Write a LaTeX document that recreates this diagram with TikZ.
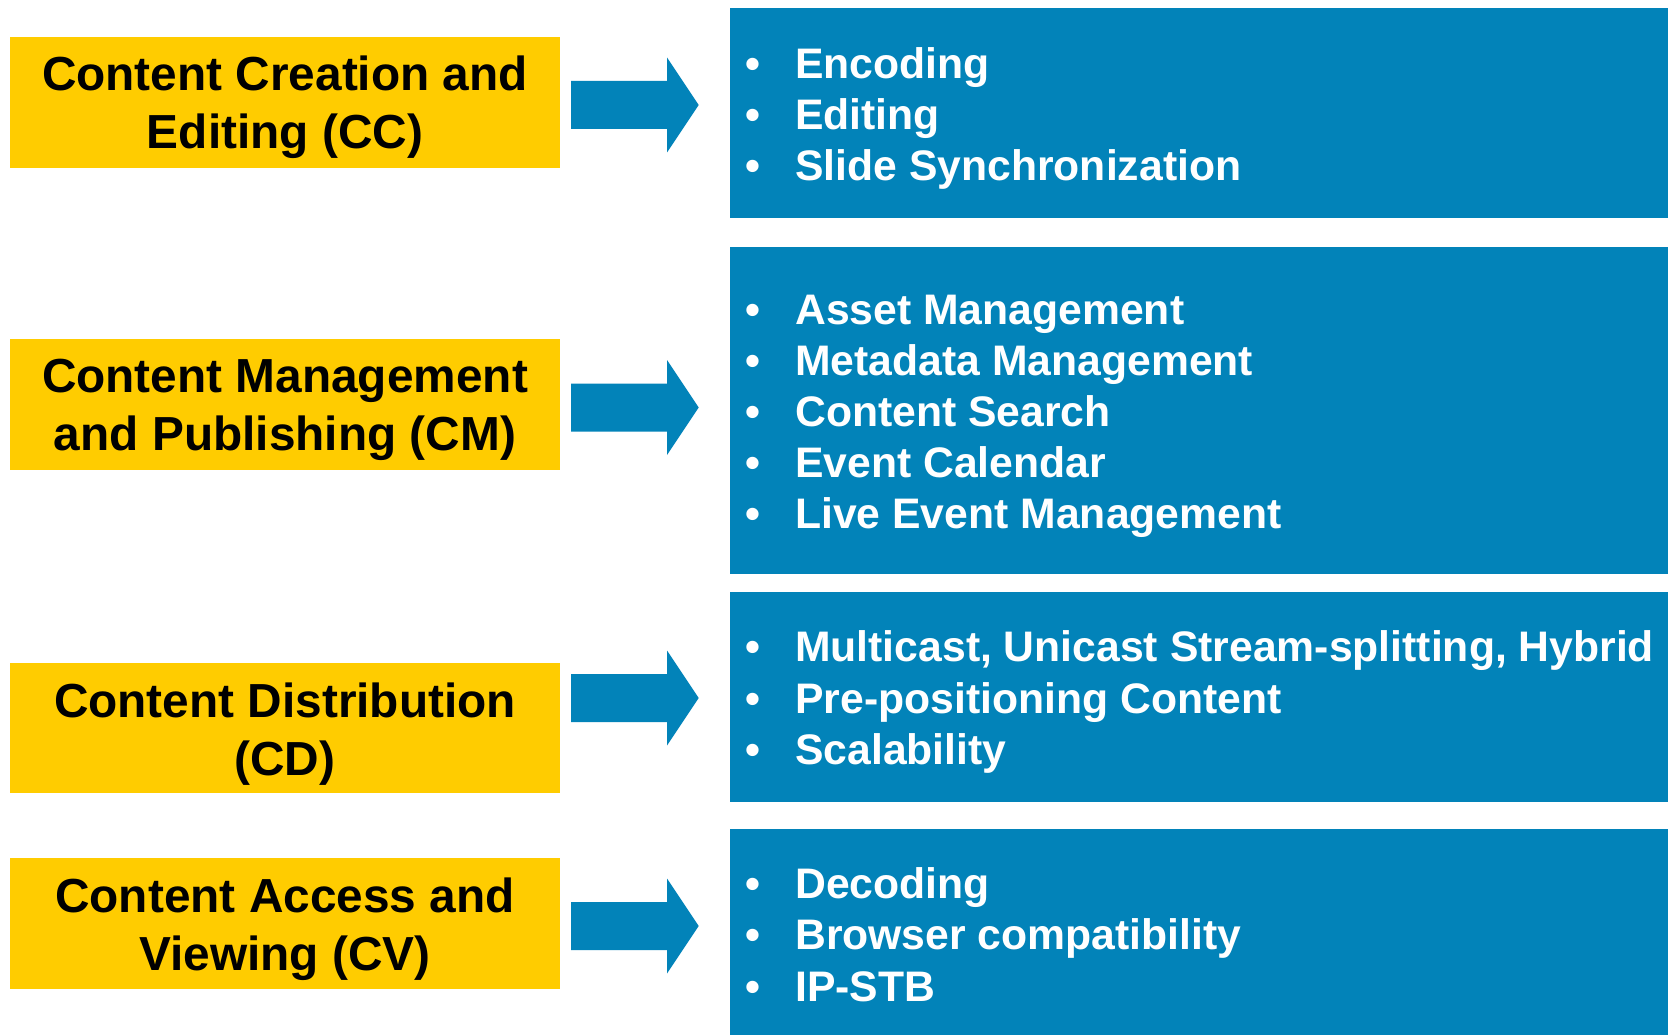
\documentclass[tikz,border=0pt]{standalone}
\usepackage{fontspec}
\setmainfont{Liberation Sans}
\definecolor{cyel}{RGB}{255,204,0}
\definecolor{cblue}{RGB}{2,131,185}
\tikzset{
  ybox/.style={fill=cyel, draw=none, inner sep=0pt, outer sep=0pt, minimum width=550pt, minimum height=130.6pt, anchor=north west},
  bbox/.style={fill=cblue, draw=none, inner sep=0pt, outer sep=0pt, minimum width=938pt, anchor=north west},
  ytext/.style={font=\fontsize{47.8}{57}\selectfont\bfseries, text=black, anchor=base, inner sep=0pt},
  btext/.style={font=\fontsize{42.7}{51}\selectfont\bfseries, text=white, anchor=base west, inner sep=0pt},
  barrow/.style={fill=cblue, draw=none}
}
\newcommand{\bl}[1]{\makebox[49.6pt][l]{•}#1}
\begin{document}
\begin{tikzpicture}[x=1pt,y=-1pt]
\useasboundingbox (0,0) rectangle (1668,1035);
% yellow boxes
\node[ybox] (cc) at (10,37.3) {};
\node[ybox] (cm) at (10,339) {};
\node[ybox] (cd) at (10,662.7) {};
\node[ybox] (cv) at (10,858) {};
% yellow texts
\node[ytext] (cc1) at (285,90.7) {Content Creation and};
\node[ytext] (cc2) at (285,149) {Editing (CC)};
\node[ytext] (cm1) at (285,392.4) {Content Management};
\node[ytext] (cm2) at (285,450.7) {and Publishing (CM)};
\node[ytext] (cd1) at (285,717.3) {Content Distribution};
\node[ytext] (cd2) at (285,775) {(CD)};
\node[ytext] (cv1) at (285,912.2) {Content Access and};
\node[ytext] (cv2) at (285,970) {Viewing (CV)};
% blue boxes
\node[bbox, minimum height=209.7pt] (b1) at (730,8) {};
\node[bbox, minimum height=327pt] (b2) at (730,247) {};
\node[bbox, minimum height=209.7pt] (b3) at (730,592) {};
\node[bbox, minimum height=207pt] (b4) at (730,828.7) {};
% arrows
\foreach \c/\n in {105/a1, 407.5/a2, 698/a3, 926/a4}{
  \fill[barrow] (571,\c-24) -- (667,\c-24) -- (667,\c-47.5) -- (698.7,\c)
     -- (667,\c+47.5) -- (667,\c+24) -- (571,\c+24) -- cycle;
}
% bullet texts
\node[btext] (t11) at (745.4,78.3) {\bl{Encoding}};
\node[btext] (t12) at (745.4,129.3) {\bl{Editing}};
\node[btext] (t13) at (745.4,180.3) {\bl{Slide Synchronization}};
\node[btext] (t21) at (745.4,324) {\bl{Asset Management}};
\node[btext] (t22) at (745.4,375.1) {\bl{Metadata Management}};
\node[btext] (t23) at (745.4,426.2) {\bl{Content Search}};
\node[btext] (t24) at (745.4,477.3) {\bl{Event Calendar}};
\node[btext] (t25) at (745.4,528.4) {\bl{Live Event Management}};
\node[btext] (t31) at (745.4,661.7) {\bl{Multicast, Unicast Stream-splitting, Hybrid}};
\node[btext] (t32) at (745.4,713.3) {\bl{Pre-positioning Content}};
\node[btext] (t33) at (745.4,764.9) {\bl{Scalability}};
\node[btext] (t41) at (745.4,898.3) {\bl{Decoding}};
\node[btext] (t42) at (745.4,949.7) {\bl{Browser compatibility}};
\node[btext] (t43) at (745.4,1001.1) {\bl{IP-STB}};
\end{tikzpicture}
\end{document}
